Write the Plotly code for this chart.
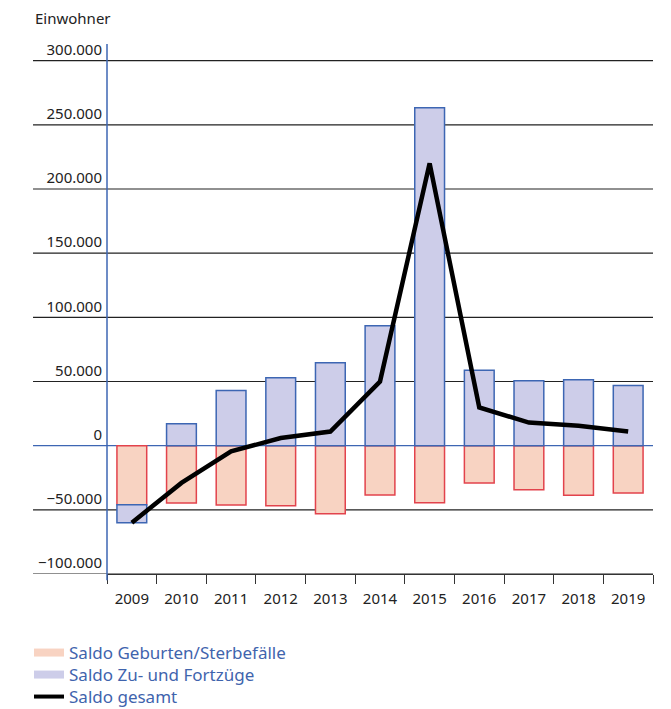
import plotly.graph_objects as go

years = ["2009", "2010", "2011", "2012", "2013", "2014", "2015", "2016", "2017", "2018", "2019"]
# Saldo Geburten/Sterbefälle
natural = [-46000, -44700, -46200, -46800, -53000, -38500, -44400, -29000, -34300, -38700, -36900]
# Saldo Zu- und Fortzüge
migration = [-14000, 17000, 43000, 53000, 64700, 93500, 263400, 58700, 50600, 51400, 46800]
# Saldo gesamt
total = [-60000, -29000, -4500, 6000, 11000, 50000, 220000, 29800, 18000, 15500, 11000]

tick_vals = [300000, 250000, 200000, 150000, 100000, 50000, 0, -50000, -100000]
tick_text = ["300.000", "250.000", "200.000", "150.000", "100.000", "50.000", "0", "\u221250.000", "\u2212100.000"]

RED_FILL = "#f8d3c2"
RED_LINE = "#e2434c"
BLUE_FILL = "#cdcde9"
BLUE_LINE = "#3d66b3"
TEXT_BLUE = "#3f64ad"
FONT = "Noto Sans"

# the page adds an 8px body margin, so the figure is drawn 8px smaller
W, H = 663, 701

fig = go.Figure()

fig.add_trace(go.Bar(x=years, y=natural, name="Saldo Geburten/Sterbefälle",
                     marker=dict(color=RED_FILL, line=dict(color=RED_LINE, width=1.5)),
                     showlegend=False))
fig.add_trace(go.Bar(x=years, y=migration, name="Saldo Zu- und Fortzüge",
                     marker=dict(color=BLUE_FILL, line=dict(color=BLUE_LINE, width=1.5)),
                     showlegend=False))
fig.add_trace(go.Scatter(x=years, y=total, name="Saldo gesamt", mode="lines",
                         line=dict(color="black", width=4.5), showlegend=False))

# legend entries drawn as wide swatches, one legend box per entry
fig.add_trace(go.Scatter(x=[None], y=[None], mode="lines", name="Saldo Geburten/Sterbefälle",
                         line=dict(color=RED_FILL, width=8), legend="legend"))
fig.add_trace(go.Scatter(x=[None], y=[None], mode="lines", name="Saldo Zu- und Fortzüge",
                         line=dict(color=BLUE_FILL, width=8), legend="legend2"))
fig.add_trace(go.Scatter(x=[None], y=[None], mode="lines", name="Saldo gesamt",
                         line=dict(color="black", width=4), legend="legend3"))

# gridlines reaching under the tick labels
left = -0.1355
for v in tick_vals:
    color = BLUE_LINE if v == 0 else "#222222"
    fig.add_shape(type="line", xref="paper", yref="y", x0=left, x1=1, y0=v, y1=v,
                  line=dict(color=color, width=1.2), layer="below")
# blue vertical axis
fig.add_shape(type="line", xref="paper", yref="paper", x0=0, x1=0, y0=-0.012, y1=1,
              line=dict(color=BLUE_LINE, width=1.5))

fig.add_annotation(text="Einwohner", xref="paper", yref="paper", x=left, y=1.049,
                   xanchor="left", yanchor="middle", showarrow=False,
                   font=dict(family=FONT, size=15, color="#222222"))

leg = dict(xref="container", yref="container", x=0.0317, xanchor="left", yanchor="middle",
           font=dict(family=FONT, size=17, color=TEXT_BLUE), itemwidth=30,
           bgcolor="rgba(0,0,0,0)")

fig.update_layout(
    width=W, height=H,
    margin=dict(l=99, r=18, t=36, b=135, autoexpand=False),
    paper_bgcolor="white", plot_bgcolor="white",
    barmode="relative", bargap=0.4,
    font=dict(family=FONT, size=15, color="#222222"),
    legend=dict(leg, y=1 - 645 / H),
    legend2=dict(leg, y=1 - 667 / H),
    legend3=dict(leg, y=1 - 689 / H),
    xaxis=dict(type="category", showgrid=False, showline=True, linecolor="#333333",
               linewidth=1.2, ticks="outside", tickson="boundaries", ticklen=9,
               tickcolor="#333333", ticklabelstandoff=11, automargin=False,
               tickfont=dict(size=15, color="#222222")),
    yaxis=dict(range=[-100000, 313000], showgrid=False, zeroline=False, showline=False,
               tickvals=tick_vals, ticktext=tick_text, ticklabelshift=-11,
               ticklabelstandoff=4, automargin=False,
               tickfont=dict(size=15, color="#222222")),
)

fig.write_html("out.html")
